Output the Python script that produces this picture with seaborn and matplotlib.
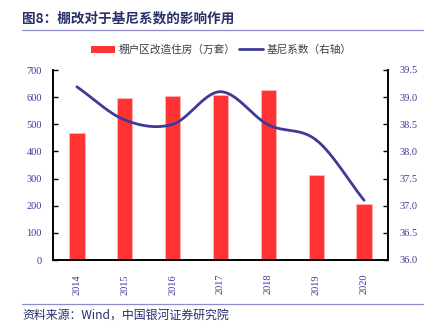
import numpy as np
import pandas as pd
import matplotlib
matplotlib.use("Agg")
import matplotlib.pyplot as plt
import seaborn as sns

years = ["2014", "2015", "2016", "2017", "2018", "2019", "2020"]
housing = [468, 598, 604, 607, 625, 313, 208]
gini = [39.19, 38.58, 38.50, 39.10, 38.49, 38.21, 37.10]
left_ticks = [0, 100, 200, 300, 400, 500, 600, 700]
right_ticks = [36.0, 36.5, 37.0, 37.5, 38.0, 38.5, 39.0, 39.5]

sns.set_theme(style="white")
plt.rcParams["font.family"] = ["Noto Sans CJK SC", "DejaVu Sans"]

fig = plt.figure(figsize=(4.33, 3.32), dpi=100)
ax = fig.add_axes([53/433, 1-260/332, 335/433, 190/332])

df = pd.DataFrame({"year": years, "housing": housing})
sns.barplot(data=df, x="year", y="housing", ax=ax, color="#FF3333",
            saturation=1, width=0.32, edgecolor="#FFB5B5", linewidth=0.6)
ax.set_xlim(-0.5, 6.5)
ax.set_ylim(0, 700)
ax.set_yticks(left_ticks)
ax.set_xlabel("")
ax.set_ylabel("")

tick_color = "#3A3A9C"
serif = ["Liberation Serif", "DejaVu Serif"]
ax.set_yticklabels([str(t) for t in left_ticks], fontfamily=serif, fontsize=7.5, color=tick_color)
ax.set_xticks(range(len(years)))
ax.set_xticklabels(years, rotation=90, fontfamily=serif, fontsize=7.5, color=tick_color)
ax.tick_params(axis="x", which="major", length=0, pad=10)
ax.set_xticks(np.arange(0.5, len(years) - 0.5, 1), minor=True)
ax.tick_params(axis="x", which="minor", direction="in", length=3, width=0.8, color="black")
ax.tick_params(axis="y", direction="in", length=3.5, width=1, color="black", left=True, pad=8)

ax2 = ax.twinx()
# smooth curve (Catmull-Rom) through the data points
xs = np.arange(len(gini), dtype=float)
ys = np.array(gini)
px = np.concatenate([[2*xs[0]-xs[1]], xs, [2*xs[-1]-xs[-2]]])
py = np.concatenate([[2*ys[0]-ys[1]], ys, [2*ys[-1]-ys[-2]]])
cx, cy = [], []
t = np.linspace(0, 1, 30)
for i in range(1, len(px) - 2):
    p0, p1, p2, p3 = [np.array([px[j], py[j]]) for j in (i-1, i, i+1, i+2)]
    seg = 0.5 * ((2*p1)[:, None] + (-p0 + p2)[:, None]*t + (2*p0 - 5*p1 + 4*p2 - p3)[:, None]*t**2
                 + (-p0 + 3*p1 - 3*p2 + p3)[:, None]*t**3)
    cx.extend(seg[0]); cy.extend(seg[1])
sns.lineplot(x=cx, y=cy, ax=ax2, color="#3F3A96", linewidth=2.0, sort=False, estimator=None)
ax2.set_ylim(36.0, 39.5)
ax2.set_yticks(right_ticks)
ax2.set_yticklabels([f"{t:.1f}" for t in right_ticks], fontfamily=serif, fontsize=7.5, color=tick_color)
ax2.tick_params(axis="y", direction="in", length=3.5, width=1, color="black", right=True, pad=8)
ax2.set_xlim(-0.5, 6.5)
ax2.grid(False)
ax.grid(False)

for a in (ax, ax2):
    a.spines["top"].set_visible(False)
    for s in ("left", "right", "bottom"):
        a.spines[s].set_color("black")
        a.spines[s].set_linewidth(1.2)

# title
fig.text(22/433, 1-22/332, "图8：棚改对于基尼系数的影响作用", fontsize=9.8, fontweight="bold",
         color="#27306A", ha="left", va="baseline")
fig.add_artist(plt.Line2D([22/433, 423/433], [1-30/332, 1-30/332], color="#8C8CCB", linewidth=0.9))

# legend
from matplotlib.patches import Patch
from matplotlib.lines import Line2D
handles = [Patch(facecolor="#FF3333", edgecolor="none"),
           Line2D([0], [0], color="#3F3A96", linewidth=2.0)]
fig.legend(handles, ["棚户区改造住房（万套）", "基尼系数（右轴）"], loc="center",
           bbox_to_anchor=(221/433, 1-50/332), ncol=2, frameon=False, fontsize=7.7,
           handlelength=2.3, handleheight=0.7, handletextpad=0.3, columnspacing=0.3,
           labelcolor="#404040")

# footer
fig.add_artist(plt.Line2D([22/433, 423/433], [1-304/332, 1-304/332], color="#8C8CCB", linewidth=0.9))
fig.text(22/433, 1-319/332, "资料来源：Wind，中国银河证券研究院", fontsize=8.6, style="italic",
         color="#27306A", ha="left", va="baseline")

fig.savefig("out.png", dpi=100)
